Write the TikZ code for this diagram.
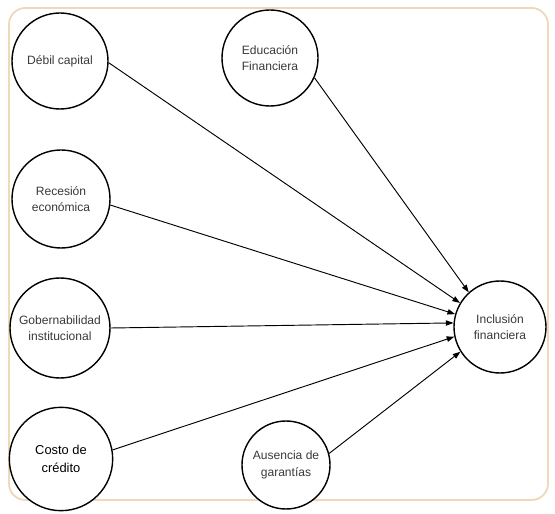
\documentclass[tikz,border=0pt]{standalone}
\usepackage{fontspec}
\setmainfont{Liberation Sans}
\usetikzlibrary{arrows.meta, positioning}
\definecolor{framebrown}{HTML}{EFD9BB}
\definecolor{labelgrey}{HTML}{3A3A3A}

\begin{document}
\begin{tikzpicture}[
    x=0.03cm, y=-0.03cm,
    >={Triangle[length=6.5pt, width=4.6pt]},
    factor/.style={circle, draw=black, line width=1.2pt, fill=white,
        align=center, inner sep=0pt, font=\fontsize{10.3}{14}\selectfont,
        text=labelgrey, minimum size=#1},
    factor/.default=2.88cm,
    influence/.style={draw=black, line width=0.8pt, ->},
    outer frame/.style={draw=framebrown, line width=1.6pt, rounded corners=14pt},
]

% ══════════════════════════════════════════════════════════════════════
%  FRAME — page size and the tan rounded border
% ══════════════════════════════════════════════════════════════════════
\useasboundingbox (0,0) rectangle (555,514);
\draw[outer frame] (9,8) rectangle (548,500);

% ── left column of factors ────────────────────────────────────────────
\node[factor]        (deb) at (60,61)  {Débil capital};
\node[factor=2.94cm] (rec) at (61,199) {Recesión\\económica};
\node[factor=3.0cm]  (gob) at (60,328) {Gobernabilidad\\institucional};
\node[factor=3.1cm, text=black, font=\fontsize{11}{15}\selectfont]
                     (cos) at (61,459) {Costo de\\crédito};

% ── middle factors ────────────────────────────────────────────────────
\node[factor]        (edu) at (270,58)  {Educación\\Financiera};
\node[factor=2.64cm] (aus) at (286,465) {Ausencia de\\garantías};

% ── outcome ───────────────────────────────────────────────────────────
\node[factor=2.76cm] (inc) at (500,327) {Inclusión\\financiera};

% ── influence arrows (factor -> inclusion) ────────────────────────────
\draw[influence] (edu.-24) -- (inc.132);
\draw[influence] (deb.-2)  -- (inc.149);
\draw[influence] (rec.-7)  -- (inc.164);
\draw[influence] (gob.0)   -- (inc.175);
\draw[influence] (cos.10)  -- (inc.192);
\draw[influence] (aus.15)  -- (inc.212);

\end{tikzpicture}
\end{document}
